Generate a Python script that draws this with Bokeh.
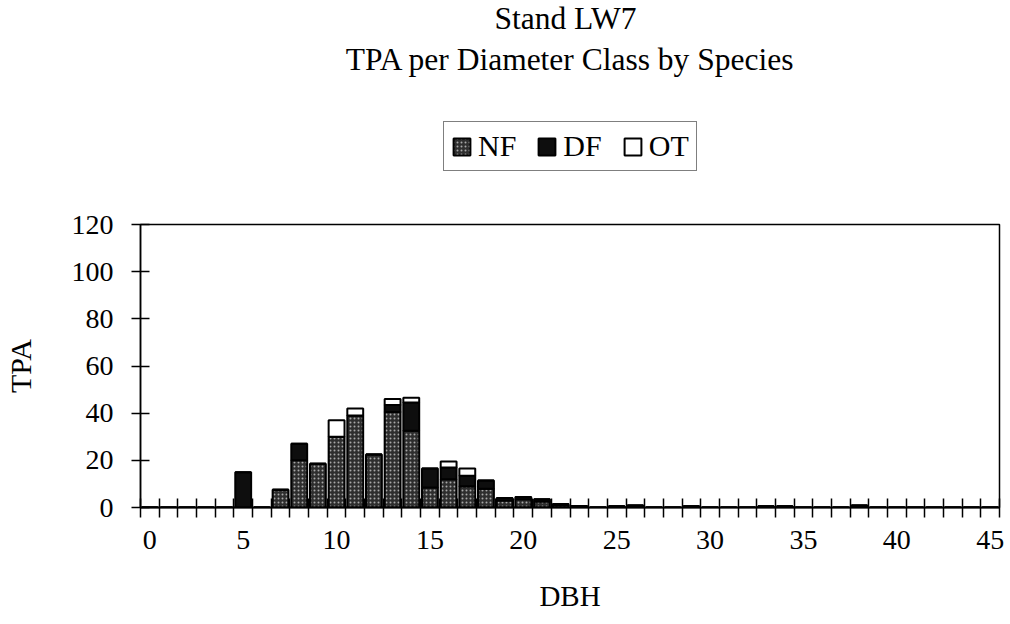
from bokeh.plotting import figure
from bokeh.layouts import column
from bokeh.models import (ColumnDataSource, FixedTicker, Legend, LegendItem, Range1d, Label)
from bokeh.embed import file_html
from bokeh.resources import INLINE

# ---- data ----
dbh = list(range(46))
nf = [0, 0, 0, 0, 0, 0, 0, 7.5, 20, 18.5, 30, 39, 22.5, 40.5, 32.5, 8.5, 12, 9, 8, 3,
      3.5, 2.5, 1, 0.6, 0, 0.5, 0.8, 0, 0, 0.5, 0, 0, 0, 0.5, 0.5, 0, 0, 0, 0.8, 0,
      0, 0, 0, 0, 0, 0]
df = [0, 0, 0, 0, 0, 15, 0, 0, 7, 0, 0, 0, 0, 3, 12, 8, 5, 4.5, 3.5, 1,
      1, 1, 0.5, 0, 0, 0, 0, 0, 0, 0, 0, 0, 0, 0, 0, 0, 0, 0, 0, 0,
      0, 0, 0, 0, 0, 0]
ot = [0, 0, 0, 0, 0, 0, 0, 0, 0, 0, 7, 3, 0, 2.5, 2, 0, 2.5, 3, 0, 0,
      0, 0, 0, 0, 0, 0, 0, 0, 0, 0, 0, 0, 0, 0, 0, 0, 0, 0, 0, 0,
      0, 0, 0, 0, 0, 0]
series = ["NF", "DF", "OT"]
x_ticks = [0, 5, 10, 15, 20, 25, 30, 35, 40, 45]
y_ticks = [0, 20, 40, 60, 80, 100, 120]
title1 = "Stand LW7"
title2 = "TPA per Diameter Class by Species"

FONT = "Liberation Serif"
FILLS = ["#2e2e2e", "#0e0e0e", "white"]
HATCH = ["dot", " ", " "]
BAR_STYLE = dict(line_color="black", line_width=2, hatch_color="#a8a8a8",
                 hatch_scale=4, hatch_weight=1)

src = ColumnDataSource(dict(dbh=dbh, NF=nf, DF=df, OT=ot))

LEFT, RIGHT = 137, 11

# ---------------- header: titles + legend ----------------
HEAD_H = 200
head = figure(width=1010, height=HEAD_H, x_range=Range1d(-0.5, 45.5), y_range=Range1d(0, 120),
              output_backend="svg", toolbar_location=None, x_axis_type=None, y_axis_type=None,
              min_border_left=LEFT, min_border_right=RIGHT, min_border_top=0, min_border_bottom=0)
head.outline_line_color = None
head.xgrid.visible = False
head.ygrid.visible = False
head.background_fill_color = "white"
head.border_fill_color = "white"

for txt, xs, yb in [(title1, 562, 28), (title2, 567, 69)]:
    head.add_layout(Label(x=xs - LEFT, y=HEAD_H - yb + 10, x_units="screen", y_units="screen",
                          text=txt, text_font=FONT, text_font_size="31.5px", text_align="center",
                          text_baseline="alphabetic", text_color="black"))

# legend swatches: the same stacked series, not shown in the header itself
hidden = head.vbar_stack(series, x="dbh", width=0.85, source=src, fill_color=FILLS,
                         hatch_pattern=HATCH, **BAR_STYLE)
for r in hidden:
    r.visible = False
legend = Legend(items=[LegendItem(label=s, renderers=[r]) for s, r in zip(series, hidden)],
                orientation="horizontal", location=(440 - LEFT, HEAD_H - 171),
                label_text_font=FONT, label_text_font_size="30px", label_text_color="black",
                glyph_width=21, glyph_height=21, label_standoff=6, spacing=20,
                padding=7, margin=0, border_line_color="black", border_line_width=1.5,
                background_fill_color="white", background_fill_alpha=1,
                inactive_fill_alpha=0)
head.add_layout(legend, "center")

# ---------------- main chart ----------------
p = figure(width=1010, height=624 - HEAD_H, x_range=Range1d(-0.5, 45.5), y_range=Range1d(0, 120),
           output_backend="svg", toolbar_location=None,
           min_border_left=LEFT, min_border_right=RIGHT, min_border_top=224 - HEAD_H,
           min_border_bottom=117)
p.background_fill_color = "white"
p.border_fill_color = "white"
p.outline_line_color = "black"
p.outline_line_width = 1.5
p.xgrid.visible = False
p.ygrid.visible = False

rs = p.vbar_stack(series, x="dbh", width=0.85, source=src,
                  fill_color=FILLS, hatch_pattern=HATCH, **BAR_STYLE)

xa = p.xaxis[0]
xa.ticker = FixedTicker(ticks=x_ticks, minor_ticks=[k - 0.5 for k in range(47)])
xa.major_tick_line_color = None
xa.major_tick_out = 10
xa.major_tick_in = 0
xa.minor_tick_in = 9
xa.minor_tick_out = 10
xa.minor_tick_line_color = "black"
xa.minor_tick_line_width = 1.5
xa.axis_line_width = 2
xa.major_label_text_font = FONT
xa.major_label_text_font_size = "28px"
xa.major_label_text_color = "black"
xa.major_label_standoff = 13
xa.axis_label = "DBH"
xa.axis_label_text_font = FONT
xa.axis_label_text_font_size = "29px"
xa.axis_label_text_font_style = "normal"
xa.axis_label_text_color = "black"
xa.axis_label_standoff = 28

ya = p.yaxis[0]
ya.ticker = FixedTicker(ticks=y_ticks, minor_ticks=[])
ya.major_tick_in = 9
ya.major_tick_out = 9
ya.major_tick_line_width = 1.5
ya.axis_line_width = 1.5
ya.major_label_text_font = FONT
ya.major_label_text_font_size = "28px"
ya.major_label_text_color = "black"
ya.major_label_standoff = 18
ya.axis_label = "TPA"
ya.axis_label_text_font = FONT
ya.axis_label_text_font_size = "30px"
ya.axis_label_text_font_style = "normal"
ya.axis_label_text_color = "black"
ya.axis_label_standoff = 32

layout = column(head, p, spacing=0)
open("out.html", "w").write(file_html(layout, INLINE))
